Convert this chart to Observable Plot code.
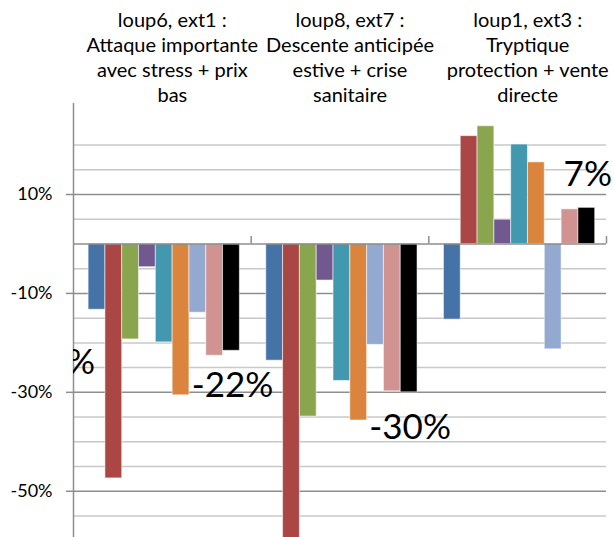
<!DOCTYPE html>
<html><head><meta charset="utf-8">
<script src="https://cdn.jsdelivr.net/npm/d3@7"></script>
<script src="https://cdn.jsdelivr.net/npm/@observablehq/plot@0.6"></script>
<style>
html,body{margin:0;padding:0;background:#fff;}
#chart svg{display:block;}
</style></head><body><div id="chart"></div>
<script>
// ---- data ----
const groupTitles = [
  "loup6, ext1 :\nAttaque importante\navec stress + prix\nbas",
  "loup8, ext7 :\nDescente anticipée\nestive + crise\nsanitaire",
  "loup1, ext3 :\nTryptique\nprotection + vente\ndirecte"
];
const series = ["série 1","série 2","série 3","série 4","série 5","série 6","série 7","série 8","série 9"];
const seriesColors = ["#4572A7","#AA4643","#89A54E","#71588F","#4198AF","#DB843D","#93A9CF","#D19392","#000000"];
const valuesLoup6 = [-13.3, -47.4, -19.3, -4.7, -19.9, -30.6, -13.9, -22.6, -21.6];
const valuesLoup8 = [-23.6, -62.0, -34.9, -7.4, -27.7, -35.7, -20.4, -29.8, -30.0];
const valuesLoup1 = [-15.3, 21.8, 23.8, 4.9, 20.1, 16.5, -21.3, 7.0, 7.3];
const bigLabels = ["-22%", "-30%", "7%"];
const partialLabel = ["-24%"];
const yTickValues = [10, -10, -30, -50];
const minorGrid = [20, 15, 5, -5, -15, -20, -25, -35, -40, -45, -55];
const groupBoundaries = [1, 2, 3];

// ---- build table ----
const allValues = [valuesLoup6, valuesLoup8, valuesLoup1];
const offset = 0.085, barW = 0.0946;
const rows = [];
allValues.forEach((vals, gi) => vals.forEach((v, si) => {
  const x1 = gi + offset + si * barW;
  rows.push({group: groupTitles[gi], gi, series: series[si], si, value: v, x1, x2: x1 + barW, xc: x1 + barW / 2});
}));
const lastIdx = series.length - 1;
const labelRows = bigLabels.map((t, gi) => {
  const r = rows.find(d => d.gi === gi && d.si === lastIdx);
  return {text: t, x: r.xc, y: r.value};
});
const firstBar = rows.find(d => d.gi === 0 && d.si === 0);

const axisColor = "#8e8e8e";
const chart = Plot.plot({
  width: 614,
  height: 537,
  marginTop: 103,
  marginBottom: 0,
  marginLeft: 73,
  marginRight: 8,
  style: {fontFamily: "Lato, 'Open Sans', sans-serif", background: "white", color: "black", overflow: "hidden"},
  x: {domain: [0, 3], axis: null},
  y: {domain: [-59.35, 28.4], axis: null},
  color: {domain: series, range: seriesColors},
  marks: [
    Plot.ruleY(minorGrid, {stroke: "#c8c8c8", strokeWidth: 1.5}),
    Plot.ruleY(yTickValues, {stroke: axisColor, strokeWidth: 1.5}),
    Plot.rect(rows, {x1: "x1", x2: "x2", y1: 0, y2: "value", fill: "series", stroke: "white", strokeOpacity: 0.55, strokeWidth: 1, clip: true}),
    Plot.ruleY([0], {stroke: axisColor, strokeWidth: 1.5}),
    Plot.ruleX([0], {stroke: axisColor, strokeWidth: 1.5}),
    Plot.ruleX(groupBoundaries, {y1: 0, y2: 1.5, stroke: axisColor, strokeWidth: 1.5}),
    Plot.axisY(yTickValues, {tickFormat: d => d + "%", tickSize: 7, tickPadding: 14, fontSize: 18, stroke: axisColor, strokeWidth: 1.5, fill: "black", label: null}),
    Plot.text(groupTitles, {x: (d, i) => i + 0.5, frameAnchor: "top", lineAnchor: "top", dy: -94, dx: 10, fontSize: 20, lineHeight: 1.25, fill: "black"}),
    Plot.text(labelRows.filter(d => d.y < 0), {x: "x", y: "y", text: "text", dy: 35, dx: 1, fontSize: 35, fill: "black"}),
    Plot.text(labelRows.filter(d => d.y >= 0), {x: "x", y: "y", text: "text", dy: -33, dx: 1, fontSize: 35, fill: "black"}),
    Plot.text(partialLabel, {x: () => firstBar.xc, y: () => -24, textAnchor: "end", dx: -2, fontSize: 35, fill: "black", clip: true})
  ]
});
document.getElementById("chart").appendChild(chart);
</script>
</body></html>
